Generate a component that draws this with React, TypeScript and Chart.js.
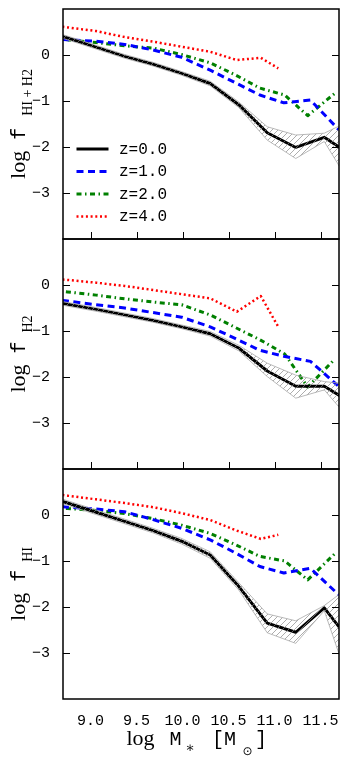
import React, { useEffect, useRef } from 'react';
import { Chart, registerables } from 'chart.js';
Chart.register(...registerables);

const W = 349;
const H = 759;
const X_MIN = 8.7;
const X_MAX = 11.7;
const Y_MIN = -4;
const Y_MAX = 1;
const X_TICKS = [9.0, 9.5, 10.0, 10.5, 11.0, 11.5];
const Y_TICKS = [-3, -2, -1, 0];
const LEGEND_LABELS = ['z=0.0', 'z=1.0', 'z=2.0', 'z=4.0'];
const SUBSCRIPTS = ['HI + H2', 'H2', 'HI'];

// stellar-mass bins (log M*) of each redshift
const MASS_Z0 = [8.44, 8.75, 9.06, 9.37, 9.68, 9.99, 10.30, 10.61, 10.92, 11.23, 11.54, 11.85];
const MASS_Z1 = [8.44, 8.75, 9.06, 9.37, 9.68, 9.99, 10.30, 10.57, 10.84, 11.10, 11.39, 11.70, 11.95];
const MASS_Z2 = [8.44, 8.75, 9.06, 9.37, 9.68, 9.99, 10.30, 10.57, 10.84, 11.11, 11.36, 11.65];
const MASS_Z4 = [8.44, 8.75, 9.06, 9.37, 9.68, 9.99, 10.30, 10.59, 10.85, 11.04];

// panel 1: log f_HI+H2
const TOT_Z0 = [0.55, 0.37, 0.17, -0.03, -0.20, -0.40, -0.62, -1.08, -1.69, -2.01, -1.79, -2.20];
const TOT_Z0_UP = [0.59, 0.41, 0.21, 0.01, -0.16, -0.36, -0.57, -1.02, -1.56, -1.74, -1.70, -1.40];
const TOT_Z0_LO = [0.51, 0.33, 0.13, -0.07, -0.24, -0.44, -0.67, -1.14, -1.85, -2.25, -1.88, -2.90];
const TOT_Z1 = [0.38, 0.33, 0.30, 0.23, 0.11, -0.05, -0.33, -0.60, -0.87, -1.04, -0.98, -1.63, -2.10];
const TOT_Z2 = [0.40, 0.33, 0.27, 0.20, 0.15, 0.01, -0.17, -0.43, -0.72, -0.87, -1.32, -0.84];
const TOT_Z4 = [0.68, 0.60, 0.52, 0.39, 0.29, 0.18, 0.07, -0.11, -0.06, -0.29];

// panel 2: log f_H2
const H2_Z0 = [-0.30, -0.42, -0.53, -0.65, -0.77, -0.91, -1.06, -1.37, -1.87, -2.20, -2.20, -2.58];
const H2_Z0_UP = [-0.26, -0.38, -0.49, -0.61, -0.73, -0.87, -1.01, -1.31, -1.70, -1.96, -2.10, -2.16];
const H2_Z0_LO = [-0.34, -0.46, -0.57, -0.69, -0.81, -0.95, -1.11, -1.43, -1.99, -2.46, -2.28, -3.00];
const H2_Z1 = [-0.28, -0.35, -0.43, -0.50, -0.60, -0.70, -0.91, -1.16, -1.42, -1.55, -1.66, -2.21, -2.50];
const H2_Z2 = [-0.08, -0.15, -0.22, -0.30, -0.37, -0.43, -0.65, -0.92, -1.19, -1.50, -2.22, -1.62];
const H2_Z4 = [0.16, 0.11, 0.05, -0.02, -0.11, -0.20, -0.29, -0.58, -0.24, -0.91];

// panel 3: log f_HI
const HI_Z0 = [0.45, 0.26, 0.06, -0.14, -0.34, -0.57, -0.87, -1.55, -2.35, -2.55, -2.02, -2.82];
const HI_Z0_UP = [0.50, 0.31, 0.11, -0.09, -0.29, -0.51, -0.80, -1.47, -2.15, -2.30, -1.97, -1.50];
const HI_Z0_LO = [0.40, 0.21, 0.01, -0.19, -0.39, -0.63, -0.94, -1.63, -2.56, -2.79, -2.08, -3.90];
const HI_Z1 = [0.24, 0.17, 0.13, 0.07, -0.10, -0.29, -0.54, -0.82, -1.12, -1.26, -1.16, -1.74, -2.20];
const HI_Z2 = [0.20, 0.14, 0.10, 0.03, -0.08, -0.22, -0.40, -0.64, -0.90, -1.00, -1.41, -0.85];
const HI_Z4 = [0.50, 0.42, 0.34, 0.26, 0.17, 0.04, -0.11, -0.34, -0.52, -0.43];

const MONO = '"Liberation Mono", "DejaVu Sans Mono", monospace';
const SERIF = '"Liberation Serif", "DejaVu Serif", serif';

const LINE_STYLES = [
  { color: '#000000', width: 3, dash: [] as number[] },
  { color: '#0000ff', width: 3, dash: [7, 4.5] },
  { color: '#008000', width: 3, dash: [5, 3.5, 1.5, 3.5] },
  { color: '#ff0000', width: 2.5, dash: [2, 2.7] },
];

const PANELS = [
  { top: 9, bottom: 239, z0: TOT_Z0, up: TOT_Z0_UP, lo: TOT_Z0_LO, z1: TOT_Z1, z2: TOT_Z2, z4: TOT_Z4, g2: 12 },
  { top: 239, bottom: 469, z0: H2_Z0, up: H2_Z0_UP, lo: H2_Z0_LO, z1: H2_Z1, z2: H2_Z2, z4: H2_Z4, g2: 9 },
  { top: 469, bottom: 699, z0: HI_Z0, up: HI_Z0_UP, lo: HI_Z0_LO, z1: HI_Z1, z2: HI_Z2, z4: HI_Z4, g2: 8 },
];

const zip = (xs: number[], ys: number[]) => ys.map((y, i) => ({ x: xs[i], y }));

function makeHatch(): CanvasPattern | string {
  const s = 6;
  const c = document.createElement('canvas');
  c.width = s;
  c.height = s;
  const g = c.getContext('2d');
  if (!g) return 'rgba(0,0,0,0)';
  g.strokeStyle = '#8a8a8a';
  g.lineWidth = 0.7;
  g.beginPath();
  g.moveTo(0, s);
  g.lineTo(s, 0);
  g.moveTo(-1, 1);
  g.lineTo(1, -1);
  g.moveTo(s - 1, s + 1);
  g.lineTo(s + 1, s - 1);
  g.stroke();
  return g.createPattern(c, 'repeat') || 'rgba(0,0,0,0)';
}

function makePlugin(idx: number) {
  return {
    id: 'decor' + idx,
    afterDatasetsDraw(chart: any) {
      const { ctx, chartArea: a, scales } = chart;
      ctx.save();
      ctx.strokeStyle = '#000';
      ctx.lineWidth = 1;
      const TL = 7;
      ctx.beginPath();
      for (const v of Y_TICKS) {
        const py = Math.round(scales.y.getPixelForValue(v)) + 0.5;
        ctx.moveTo(a.left, py);
        ctx.lineTo(a.left + TL, py);
        ctx.moveTo(a.right, py);
        ctx.lineTo(a.right - TL, py);
      }
      if (idx < 2) {
        for (const v of X_TICKS) {
          const px = Math.round(scales.x.getPixelForValue(v)) + 0.5;
          ctx.moveTo(px, a.bottom);
          ctx.lineTo(px, a.bottom - TL);
        }
      }
      ctx.stroke();
      ctx.lineWidth = 1.5;
      ctx.strokeRect(a.left, a.top, a.right - a.left, a.bottom - a.top);

      ctx.fillStyle = '#000';
      const p = PANELS[idx];
      const center = (p.top + p.bottom) / 2;
      ctx.font = '22px ' + SERIF;
      const wLog = ctx.measureText('log').width;
      ctx.font = '20px ' + MONO;
      const wF = ctx.measureText('f').width;
      ctx.font = '14px ' + SERIF;
      const wSub = ctx.measureText(SUBSCRIPTS[idx]).width;
      const g1 = 11;
      const total = wLog + g1 + wF + p.g2 + wSub;
      ctx.save();
      ctx.translate(25, center + total / 2);
      ctx.rotate(-Math.PI / 2);
      ctx.textBaseline = 'alphabetic';
      ctx.textAlign = 'left';
      ctx.font = '22px ' + SERIF;
      ctx.fillText('log', 0, 0);
      ctx.font = '20px ' + MONO;
      ctx.fillText('f', wLog + g1, 0);
      ctx.font = '14px ' + SERIF;
      ctx.fillText(SUBSCRIPTS[idx], wLog + g1 + wF + p.g2, 6.7);
      ctx.restore();

      if (idx === 0) {
        const rows = [149, 171.5, 194, 216.5];
        rows.forEach((ry, i) => {
          const st = LINE_STYLES[i];
          ctx.save();
          ctx.strokeStyle = st.color;
          ctx.lineWidth = st.width;
          ctx.setLineDash(st.dash);
          ctx.lineCap = 'butt';
          ctx.beginPath();
          ctx.moveTo(76.5, ry);
          ctx.lineTo(108.5, ry);
          ctx.stroke();
          ctx.restore();
          ctx.font = '16px ' + MONO;
          ctx.textBaseline = 'middle';
          ctx.textAlign = 'left';
          ctx.fillStyle = '#000';
          ctx.fillText(LEGEND_LABELS[i], 119, ry + 0.5);
        });
      }

      if (idx === 2) {
        ctx.textBaseline = 'alphabetic';
        ctx.textAlign = 'left';
        ctx.font = '22px ' + SERIF;
        ctx.fillText('log', 126.5, 745);
        ctx.font = '20px ' + MONO;
        ctx.fillText('M', 169.5, 745);
        ctx.font = '14px ' + SERIF;
        ctx.fillText('\u2217', 185.5, 752);
        ctx.font = '20px ' + MONO;
        ctx.fillText('[', 212, 745);
        ctx.fillText('M', 224, 745);
        ctx.font = '12px "DejaVu Sans", sans-serif';
        ctx.fillText('\u2299', 242.5, 755);
        ctx.font = '20px ' + MONO;
        ctx.fillText(']', 255, 745);
      }
      ctx.restore();
    },
  };
}

export default function App() {
  const r0 = useRef<HTMLCanvasElement>(null);
  const r1 = useRef<HTMLCanvasElement>(null);
  const r2 = useRef<HTMLCanvasElement>(null);

  useEffect(() => {
    const refs = [r0, r1, r2];
    const hatch = makeHatch();
    const charts: Chart[] = [];
    PANELS.forEach((p, idx) => {
      const canvas = refs[idx].current;
      if (!canvas) return;
      const showX = idx === 2;
      const common = { pointRadius: 0, tension: 0, borderCapStyle: 'butt', borderJoinStyle: 'round' };
      const datasets: any[] = [
        { ...common, data: zip(MASS_Z0, p.up), borderColor: '#a8a8a8', borderWidth: 0.8, fill: false },
        { ...common, data: zip(MASS_Z0, p.lo), borderColor: '#a8a8a8', borderWidth: 0.8, fill: '-1', backgroundColor: hatch },
        { ...common, data: zip(MASS_Z0, p.z0), borderColor: LINE_STYLES[0].color, borderWidth: LINE_STYLES[0].width, fill: false },
        { ...common, data: zip(MASS_Z1, p.z1), borderColor: LINE_STYLES[1].color, borderWidth: LINE_STYLES[1].width, borderDash: LINE_STYLES[1].dash, fill: false },
        { ...common, data: zip(MASS_Z2, p.z2), borderColor: LINE_STYLES[2].color, borderWidth: LINE_STYLES[2].width, borderDash: LINE_STYLES[2].dash, fill: false },
        { ...common, data: zip(MASS_Z4, p.z4), borderColor: LINE_STYLES[3].color, borderWidth: LINE_STYLES[3].width, borderDash: LINE_STYLES[3].dash, fill: false },
      ];
      const xH = 30;
      const chart = new Chart(canvas, {
        type: 'line',
        data: { datasets },
        options: {
          animation: false,
          responsive: false,
          devicePixelRatio: 1,
          events: [],
          layout: {
            padding: {
              left: 0,
              right: W - 339,
              top: p.top,
              bottom: showX ? H - p.bottom - xH : H - p.bottom,
            },
          },
          plugins: { legend: { display: false }, tooltip: { enabled: false } },
          scales: {
            x: {
              type: 'linear',
              min: X_MIN,
              max: X_MAX,
              display: showX,
              grid: { display: false },
              border: { display: false },
              afterBuildTicks: (s: any) => {
                s.ticks = X_TICKS.map((v) => ({ value: v }));
              },
              afterFit: (s: any) => {
                s.height = showX ? xH : 0;
              },
              ticks: {
                font: { family: MONO, size: 15 },
                color: '#000',
                padding: 5,
                maxRotation: 0,
                autoSkip: false,
                callback: (v: any) => Number(v).toFixed(1),
              },
            },
            y: {
              type: 'linear',
              min: Y_MIN,
              max: Y_MAX,
              grid: { display: false },
              border: { display: false },
              afterBuildTicks: (s: any) => {
                s.ticks = Y_TICKS.map((v) => ({ value: v }));
              },
              afterFit: (s: any) => {
                s.width = 63;
                s.paddingTop = 0;
                s.paddingBottom = 0;
              },
              ticks: {
                font: { family: MONO, size: 15 },
                color: '#000',
                padding: 5,
                callback: (v: any) => (Number(v) < 0 ? '\u2212' + Math.abs(Number(v)) : String(v)),
              },
            },
          },
        } as any,
        plugins: [makePlugin(idx)],
      });
      charts.push(chart);
    });
    return () => charts.forEach((c) => c.destroy());
  }, []);

  const cs: React.CSSProperties = { position: 'absolute', left: 0, top: 0, width: W, height: H };
  return (
    <div style={{ position: 'absolute', left: 0, top: 0, width: W, height: H, background: '#fff' }}>
      <canvas ref={r0} width={W} height={H} style={cs} />
      <canvas ref={r1} width={W} height={H} style={cs} />
      <canvas ref={r2} width={W} height={H} style={cs} />
    </div>
  );
}
